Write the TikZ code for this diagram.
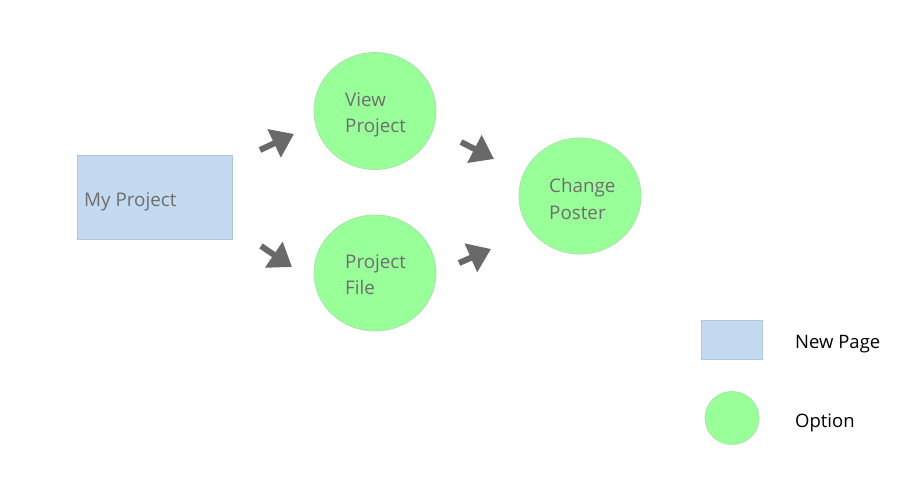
\documentclass[tikz,border=0pt]{standalone}
\usepackage{fontspec}
\setmainfont{Open Sans}
\usetikzlibrary{arrows.meta,shapes.geometric}
\definecolor{pagefill}{RGB}{195,218,240}
\definecolor{pageline}{RGB}{175,198,222}
\definecolor{optfill}{RGB}{153,255,153}
\definecolor{optline}{RGB}{170,225,170}
\definecolor{txtgray}{RGB}{110,110,110}
\definecolor{arrowgray}{RGB}{105,105,105}
\begin{document}
\begin{tikzpicture}[x=1pt,y=-1pt,
  pagebox/.style={draw=pageline,fill=pagefill,line width=0.8pt},
  optcircle/.style={draw=optline,fill=optfill,line width=0.8pt},
  lbl/.style={anchor=base west,inner sep=0pt,text=txtgray,font=\fontsize{18.8}{22}\selectfont},
  legendlbl/.style={anchor=base west,inner sep=0pt,text=black,font=\fontsize{18.5}{22}\selectfont},
  flow/.style={draw=arrowgray,line width=6pt,-{Triangle[length=22pt,width=30pt]}}]
\useasboundingbox (0,0) rectangle (917,489);
\fill[white] (0,0) rectangle (917,489);
% My Project
\draw[pagebox] (77,155) rectangle (232,239);
\node[lbl] (myproj) at (84,206) {My Project};
% circles
\path[optcircle] (375,111) ellipse [x radius=61, y radius=58.5];
\path[optcircle] (375,273) ellipse [x radius=61, y radius=58];
\path[optcircle] (580,196) ellipse [x radius=61, y radius=58];
\coordinate (vp) at (375,111);
\coordinate (pf) at (375,273);
\coordinate (cp) at (580,196);
% labels
\node[lbl] (vp1) at (345,107) {View};
\node[lbl] (vp2) at (345,133) {Project};
\node[lbl] (pf1) at (345,268) {Project};
\node[lbl] (pf2) at (345,294) {File};
\node[lbl] (cp1) at (549,193) {Change};
\node[lbl] (cp2) at (549,219) {Poster};
% arrows
\coordinate (a1s) at (260,150); \coordinate (a1e) at (294,134);
\coordinate (a2s) at (261,246); \coordinate (a2e) at (292,267);
\coordinate (a3s) at (461,142); \coordinate (a3e) at (494,159);
\coordinate (a4s) at (459,263); \coordinate (a4e) at (491,249);
\draw[flow] (a1s) -- (a1e);
\draw[flow] (a2s) -- (a2e);
\draw[flow] (a3s) -- (a3e);
\draw[flow] (a4s) -- (a4e);
% legend
\draw[pagebox] (701,320) rectangle (762,359);
\path[optcircle] (732,418) ellipse [x radius=27, y radius=26.5];
\coordinate (legc) at (732,418);
\node[legendlbl] (lp) at (795,348) {New Page};
\node[legendlbl] (lo) at (795,427) {Option};
\end{tikzpicture}
\end{document}
